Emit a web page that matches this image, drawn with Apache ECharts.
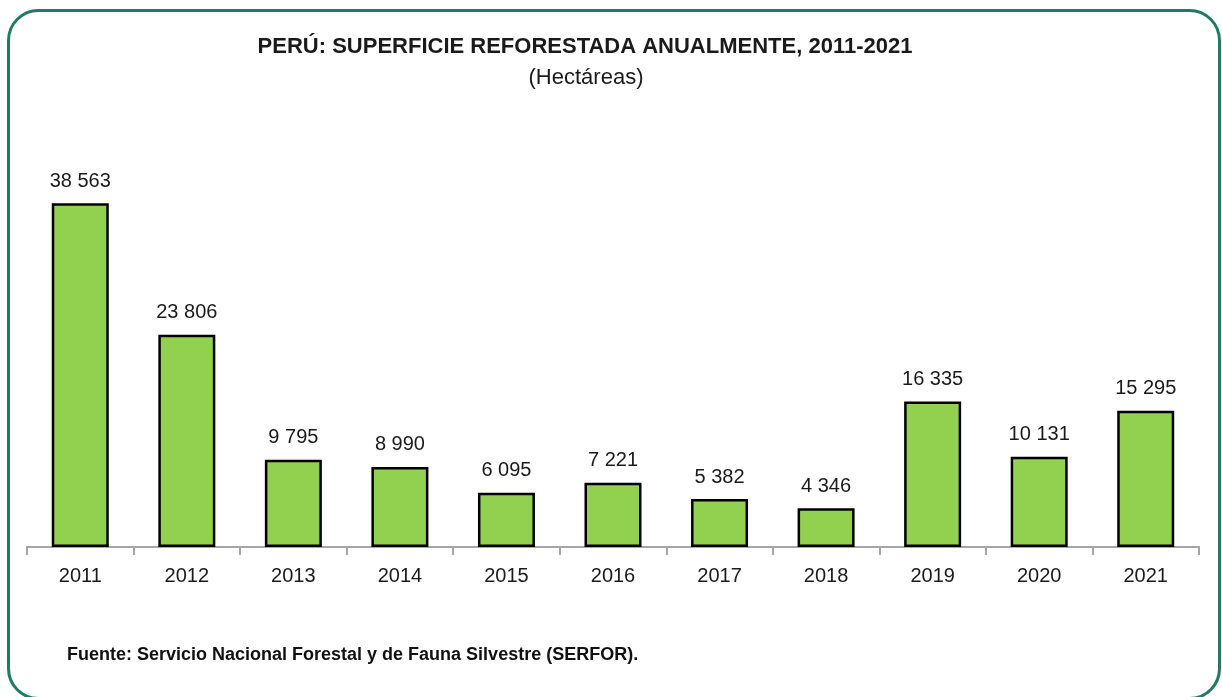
<!DOCTYPE html>
<html>
<head>
<meta charset="utf-8">
<script src="https://cdn.jsdelivr.net/npm/echarts@6/dist/echarts.min.js"></script>
<style>
html,body{margin:0;padding:0;background:#fff;}
#c{width:1222px;height:697px;}
</style>
</head>
<body>
<div id="c"></div>
<script>
const categories = ['2011','2012','2013','2014','2015','2016','2017','2018','2019','2020','2021'];
const values = [38563, 23806, 9795, 8990, 6095, 7221, 5382, 4346, 16335, 10131, 15295];
const titleText = 'PERÚ: SUPERFICIE REFORESTADA ANUALMENTE, 2011-2021';
const subtitleText = '(Hectáreas)';
const sourceText = 'Fuente: Servicio Nacional Forestal y de Fauna Silvestre (SERFOR).';

const FONT = '"Liberation Sans Narrow", "Arial Narrow", "Liberation Sans", Arial, sans-serif';
function fmt(v){ return String(v).replace(/\B(?=(\d{3})+(?!\d))/g, ' '); }

const chart = echarts.init(document.getElementById('c'), null, {renderer:'canvas'});
chart.setOption({
  backgroundColor: '#ffffff',
  animation: false,
  graphic: [{
    type: 'rect',
    shape: {x: 8.5, y: 10.5, width: 1211, height: 688, r: 30},
    style: {fill: 'none', stroke: '#1f7a66', lineWidth: 3},
    silent: true, z: 100
  },{
    type: 'text',
    x: 585, y: 47,
    style: {text: titleText, font: 'bold 22px ' + FONT, fill: '#1a1a1a', align: 'center', verticalAlign: 'middle'}
  },{
    type: 'text',
    x: 586, y: 78,
    style: {text: subtitleText, font: '22px ' + FONT, fill: '#1a1a1a', align: 'center', verticalAlign: 'middle'}
  },{
    type: 'text',
    x: 67, y: 655,
    style: {text: sourceText, font: 'bold 18px ' + FONT, fill: '#111', align: 'left', verticalAlign: 'middle'}
  }],
  grid: {left: 27, right: 23, top: 146, bottom: 150, containLabel: false},
  xAxis: {
    type: 'category',
    data: categories,
    boundaryGap: true,
    axisLine: {lineStyle: {color: '#a6a6a6', width: 2}},
    axisTick: {show: true, length: 8, lineStyle: {color: '#a6a6a6', width: 2}},
    axisLabel: {fontFamily: FONT, fontSize: 20, color: '#1a1a1a', margin: 19}
  },
  yAxis: {
    type: 'value', min: 0, max: 45000, show: false,
    splitLine: {show: false}
  },
  series: [{
    type: 'bar',
    data: values,
    barWidth: 57,
    itemStyle: {color: '#92d050', borderColor: '#000', borderWidth: 2.5},
    label: {
      show: true, position: 'top', distance: 12,
      formatter: p => fmt(p.value),
      fontFamily: FONT, fontSize: 20, color: '#1a1a1a'
    }
  }]
});
</script>
</body>
</html>
